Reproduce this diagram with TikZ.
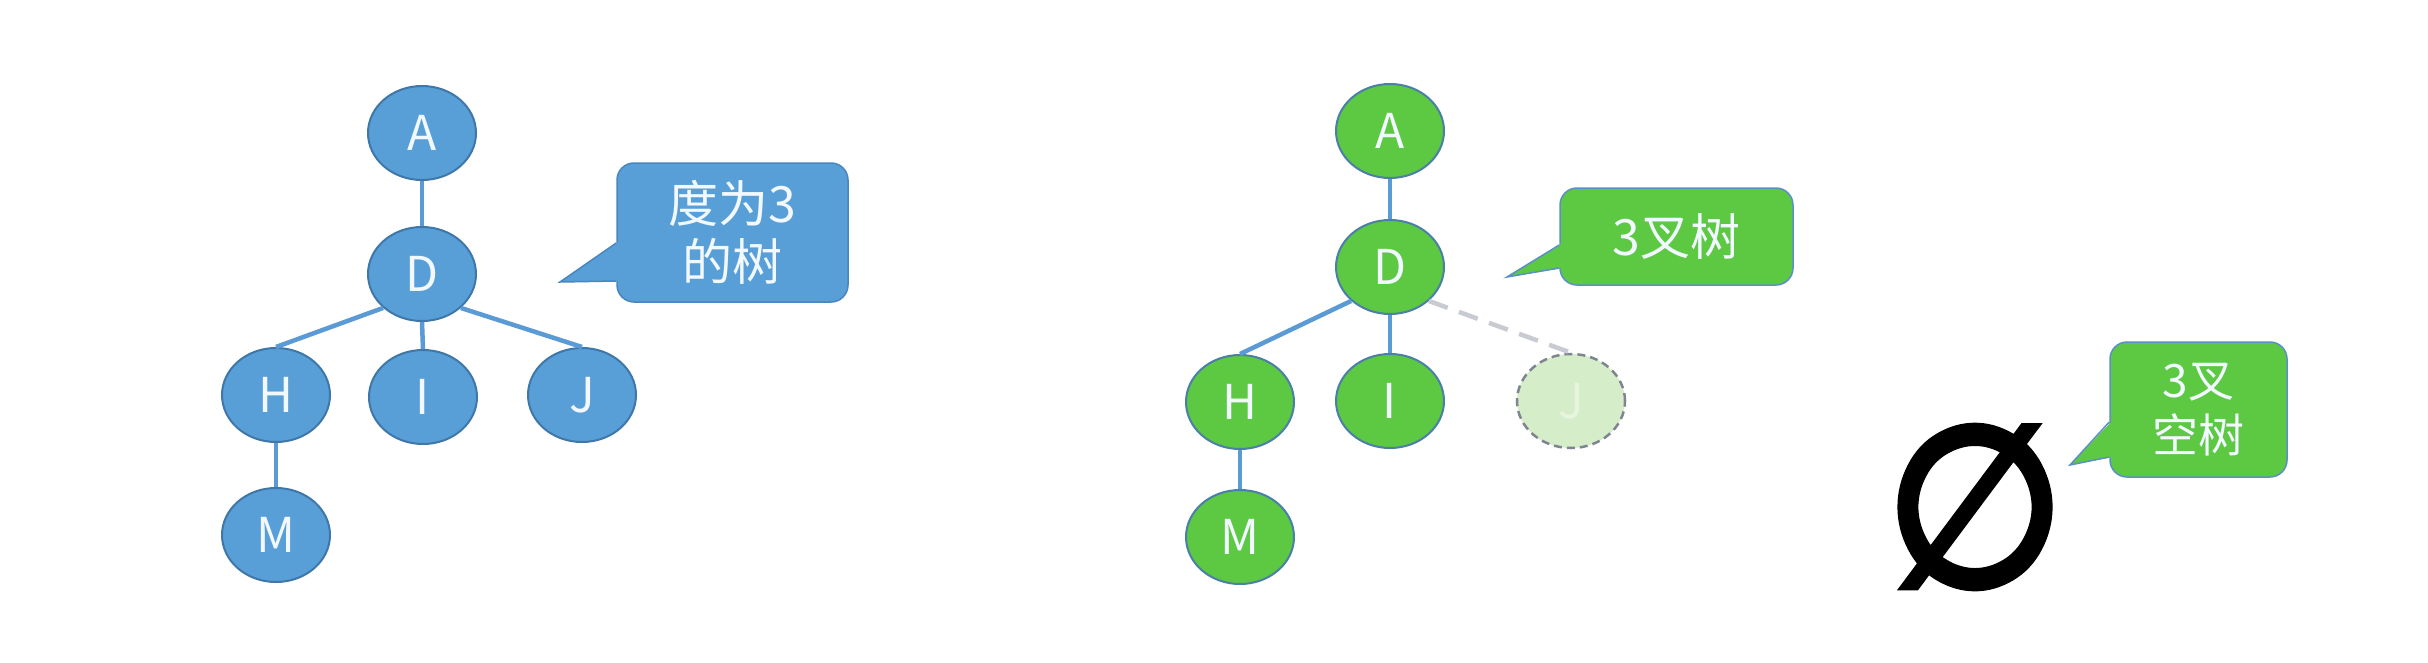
\documentclass[tikz,border=0pt]{standalone}
\usepackage{fontspec}
\setmainfont{Noto Sans CJK SC}
\newfontfamily\symfont[FakeBold=4]{DejaVu Sans}
\usetikzlibrary{shapes.geometric}
\definecolor{bfill}{HTML}{589FD7}
\definecolor{bline}{HTML}{3F77A8}
\definecolor{gfill}{HTML}{5DC842}
\definecolor{gline}{HTML}{4A7FA8}
\definecolor{edgeblue}{HTML}{5B9BD5}
\definecolor{ghostfill}{HTML}{D6EDC9}
\definecolor{ghostline}{HTML}{7F8590}
\definecolor{ghostedge}{HTML}{C9CBD3}
\definecolor{txtw}{HTML}{F2F8FF}
\definecolor{cbline}{HTML}{4A86BE}
\definecolor{cgline}{HTML}{5B8FC8}
\tikzset{
  bnode/.style={ellipse, draw=bline, line width=2pt, fill=bfill, minimum width=108pt, minimum height=94pt, inner sep=0pt, text=txtw, font=\fontsize{48}{50}\selectfont},
  gnode/.style={bnode, fill=gfill, draw=gline},
  ghost/.style={bnode, fill=ghostfill, draw=ghostline, line width=2.5pt, dash pattern=on 8pt off 5pt, text=ghostfill!60!white},
  edge/.style={draw=edgeblue, line width=4.5pt},
  ghostedgestyle/.style={draw=ghostedge, line width=4.5pt, dash pattern=on 20pt off 12pt},
  bcall/.style={draw=cbline, line width=1.5pt, fill=bfill, rounded corners=17pt, inner sep=0pt, text=txtw, align=center, font=\fontsize{50}{58}\selectfont},
  gcall/.style={bcall, draw=cgline, fill=gfill},
}
\begin{document}
\begin{tikzpicture}[x=1pt,y=-1pt]
\useasboundingbox (0,0) rectangle (2428,662);
\fill[white] (0,0) rectangle (2428,662);

% ---------- blue tree ----------
\node[bnode] (bA) at (422,133) {A};
\node[bnode] (bD) at (422,274) {D};
\node[bnode] (bH) at (276,395) {H};
\node[bnode] (bI) at (423,397) {I};
\node[bnode] (bJ) at (582,395) {J};
\node[bnode] (bM) at (276,535) {M};
\path[edge] (bA.south) -- (bD.north);
\path[edge] (bD.south west) -- (bH.north);
\path[edge] (bD.south) -- (bI.north);
\path[edge] (bD.south east) -- (bJ.north);
\path[edge] (bH.south) -- (bM.north);

% blue callout
\node[bcall, minimum width=231pt, minimum height=139pt] (bc) at (732.5,232.5) {度为3\\的树};
\coordinate (bctip) at (560,282);
\fill[bfill] (bctip) -- (620,241) -- (620,281) -- cycle;
\draw[cbline, line width=1.5pt, line join=miter] (bc.west |- 0,243) -- (bctip) -- (bc.west |- 0,281);

% ---------- green tree ----------
\node[gnode] (gA) at (1390,131) {A};
\node[gnode] (gD) at (1390,267) {D};
\node[gnode] (gH) at (1240,402) {H};
\node[gnode] (gI) at (1390,401) {I};
\node[ghost] (gJ) at (1571,401) {J};
\node[gnode] (gM) at (1240,537) {M};
\path[edge] (gA.south) -- (gD.north);
\path[edge] (gD.south west) -- (gH.north);
\path[edge] (gD.south) -- (gI.north);
\path[ghostedgestyle] (gD.south east) -- (gJ.north);
\path[edge] (gH.south) -- (gM.north);

% green callout 1
\node[gcall, minimum width=233pt, minimum height=97pt] (gc) at (1676.5,236.5) {3叉树};
\coordinate (gctip) at (1507,277);
\fill[gfill] (gctip) -- (1563,243) -- (1563,268) -- cycle;
\draw[cgline, line width=1.5pt, line join=miter] (gc.west |- 0,245) -- (gctip) -- (gc.west |- 0,268);

% ---------- empty tree ----------
\node[font=\symfont\fontsize{222}{222}\selectfont, inner sep=0pt] (empty) at (1975,507) {\scalebox{0.92}[1]{∅}};
\node[gcall, minimum width=177pt, minimum height=135pt, font=\fontsize{46}{55}\selectfont] (ec) at (2198.5,409.5) {3叉\\空树};
\coordinate (ectip) at (2070,465);
\fill[gfill] (ectip) -- (2113,420) -- (2113,457) -- cycle;
\draw[cgline, line width=1.5pt, line join=miter] (ec.west |- 0,422) -- (ectip) -- (ec.west |- 0,457);
\end{tikzpicture}
\end{document}
